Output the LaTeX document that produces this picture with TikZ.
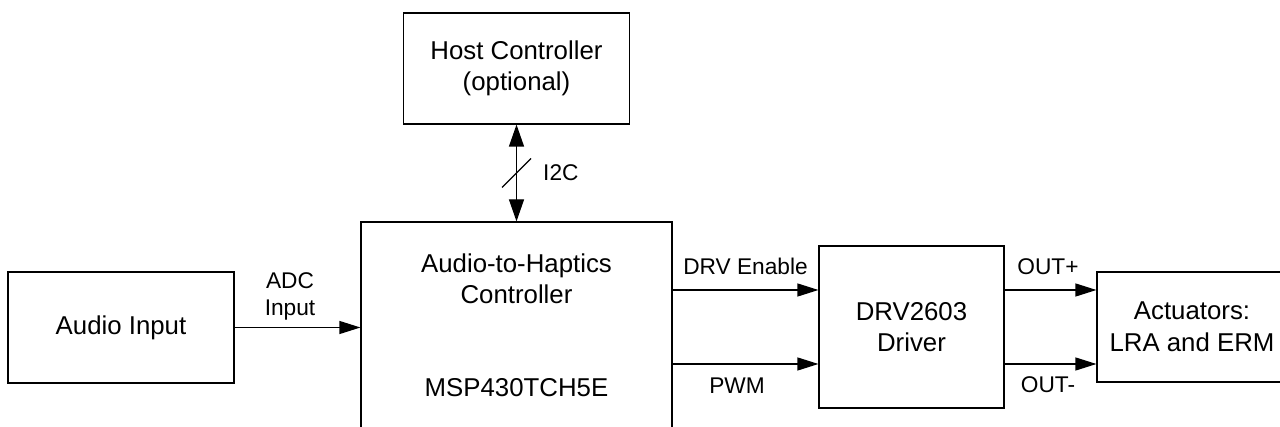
\documentclass[tikz,border=0pt]{standalone}
\usepackage{fontspec}
\setmainfont{Liberation Sans}
\usetikzlibrary{arrows.meta}
\newcommand\mainfs{\fontsize{25.8}{31.5}\selectfont}
\newcommand\labfs{\fontsize{22.7}{27}\selectfont}
\tikzset{
  blockbox/.style={draw, line width=1.2pt, inner sep=0pt, align=center, font=\mainfs},
  plaintext/.style={inner sep=0pt, align=center, font=\mainfs},
  lab/.style={inner sep=0pt, align=center, font=\labfs},
  arr/.style={line width=1.2pt, -{Triangle[length=21pt, width=13pt]}},
  biarr/.style={line width=1.2pt, {Triangle[length=22pt, width=15pt]}-{Triangle[length=22pt, width=15pt]}},
}
\begin{document}
\begin{tikzpicture}[x=1pt, y=-1pt]
\useasboundingbox (0,0) rectangle (1280,427);
% blocks
\node[blockbox, minimum width=226, minimum height=111] (host) at (516.5,68.5) {Host Controller\\(optional)};
\node[blockbox, minimum width=226, minimum height=111] (audio) at (121,327.5) {Audio Input};
\node[blockbox, minimum width=311, minimum height=248] (ctrl) at (516.5,346) {};
\node[plaintext] (ctrltxt) at (516.5,278.6) {Audio-to-Haptics\\Controller};
\node[plaintext] (mcu) at (516.5,387.4) {MSP430TCH5E};
\node[blockbox, minimum width=185, minimum height=162] (drv) at (911.5,327) {DRV2603\\Driver};
\node[blockbox, minimum width=190, minimum height=110] (act) at (1192,327) {Actuators:\\LRA and ERM};
% connection points
\coordinate (drvA) at ([yshift=37pt]drv.west);
\coordinate (drvB) at ([yshift=-37pt]drv.west);
\coordinate (actA) at ([yshift=37pt]act.west);
\coordinate (actB) at ([yshift=-37pt]act.west);
% connectors
\draw[biarr] (host.south) -- (ctrl.north) coordinate[pos=0.5] (mid);
\draw[line width=1.2pt] ([shift={(-14.5pt,-14.5pt)}]mid) -- ([shift={(14.5pt,14.5pt)}]mid);
\node[lab, anchor=west] (i2c) at ([xshift=26.5pt]mid) {I2C};
\draw[arr] (audio.east) -- (audio.east -| ctrl.west)
  node[lab, midway, anchor=south, yshift=7pt, xshift=-7.5pt] (adc) {ADC\\Input};
\draw[arr] (ctrl.east |- drvA) -- (drvA)
  node[lab, midway, anchor=south, yshift=15pt] (en) {DRV Enable};
\draw[arr] (ctrl.east |- drvB) -- (drvB)
  node[lab, midway, anchor=north, yshift=-13pt, xshift=-8.5pt] (pwm) {PWM};
\draw[arr] (drv.east |- actA) -- (actA)
  node[lab, midway, anchor=south, yshift=15pt, xshift=-2.5pt] (outp) {OUT+};
\draw[arr] (drv.east |- actB) -- (actB)
  node[lab, midway, anchor=north, yshift=-12pt, xshift=-2.5pt] (outm) {OUT-};
\end{tikzpicture}
\end{document}
